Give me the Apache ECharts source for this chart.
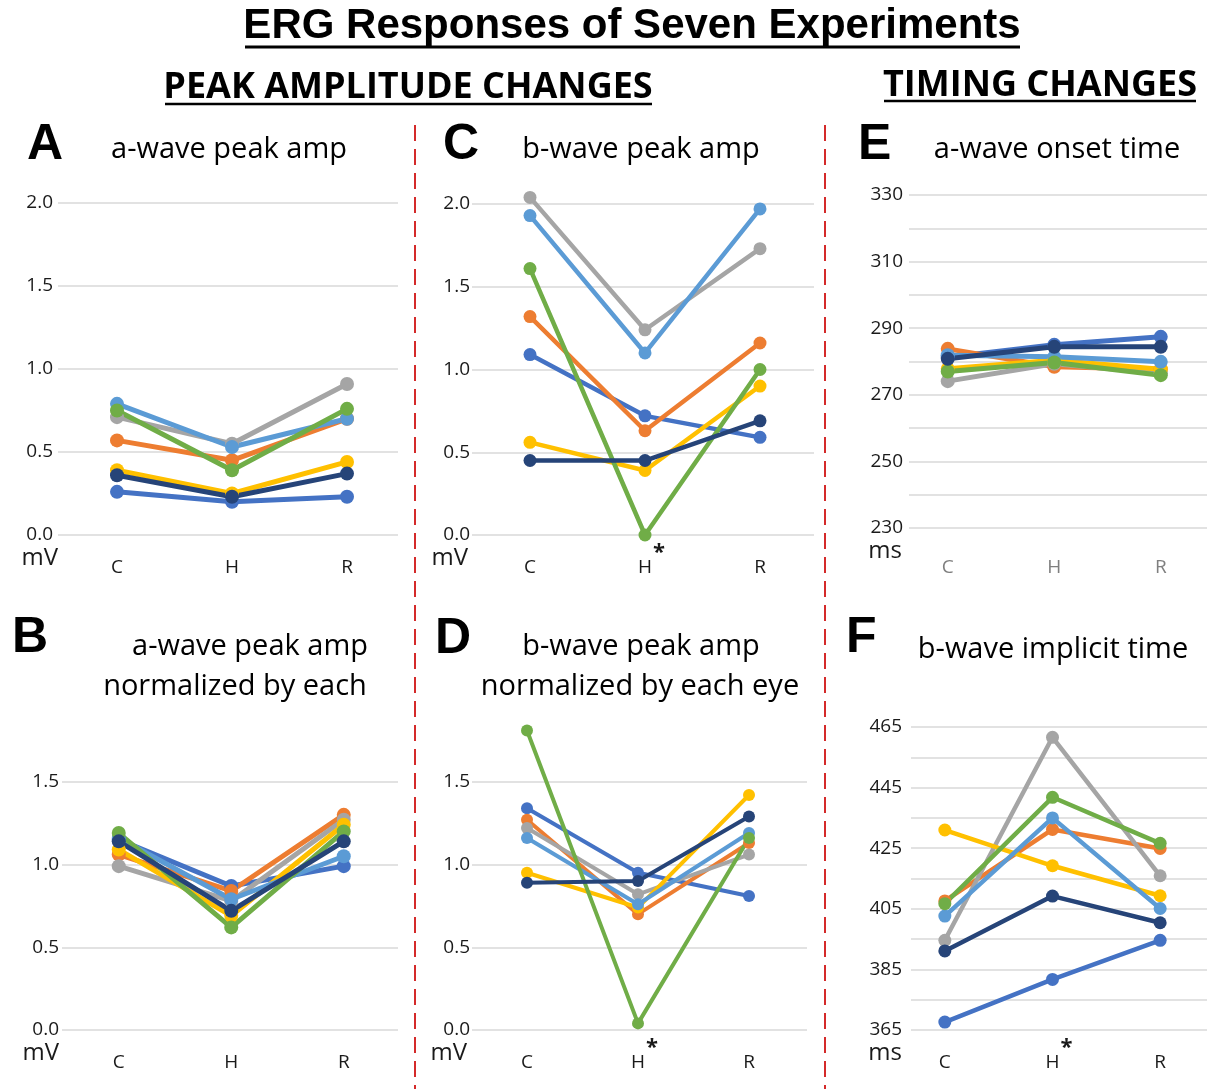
<!DOCTYPE html>
<html><head><meta charset="utf-8">
<script src="https://cdn.jsdelivr.net/npm/echarts@6/dist/echarts.min.js"></script>
<style>html,body{margin:0;padding:0;background:#fff}#c{width:1214px;height:1089px}</style>
</head><body><div id="c"></div>
<script>
// ---------- DATA ----------
const categories = ['C', 'H', 'R'];
const seriesNames = ['Exp 1', 'Exp 2', 'Exp 3', 'Exp 4', 'Exp 5', 'Exp 6', 'Exp 7'];
const seriesColors = ['#4472C4', '#ED7D31', '#A5A5A5', '#FFC000', '#5B9BD5', '#70AD47', '#264478'];

// A: a-wave peak amp (mV)
const aWavePeakAmp = [
  [0.26, 0.20, 0.23],
  [0.57, 0.45, 0.70],
  [0.71, 0.55, 0.91],
  [0.39, 0.25, 0.44],
  [0.79, 0.53, 0.70],
  [0.75, 0.39, 0.76],
  [0.36, 0.23, 0.37]
];
// B: a-wave peak amp normalized
const aWaveNormalized = [
  [1.15, 0.87, 0.99],
  [1.06, 0.84, 1.30],
  [0.99, 0.78, 1.27],
  [1.09, 0.69, 1.24],
  [1.16, 0.79, 1.05],
  [1.19, 0.62, 1.20],
  [1.14, 0.72, 1.14]
];
// C: b-wave peak amp (mV)
const bWavePeakAmp = [
  [1.09, 0.72, 0.59],
  [1.32, 0.63, 1.16],
  [2.04, 1.24, 1.73],
  [0.56, 0.39, 0.90],
  [1.93, 1.10, 1.97],
  [1.61, 0.00, 1.00],
  [0.45, 0.45, 0.69]
];
// D: b-wave peak amp normalized by each eye
const bWaveNormalized = [
  [1.34, 0.95, 0.81],
  [1.27, 0.70, 1.13],
  [1.22, 0.82, 1.06],
  [0.95, 0.74, 1.42],
  [1.16, 0.76, 1.19],
  [1.81, 0.04, 1.16],
  [0.89, 0.90, 1.29]
];
// E: a-wave onset time (ms)
const aWaveOnset = [
  [281.3, 285.0, 287.4],
  [283.8, 278.4, 277.7],
  [274.1, 279.3, 276.5],
  [277.8, 280.4, 277.7],
  [281.9, 281.4, 279.9],
  [277.0, 279.7, 275.9],
  [280.8, 284.4, 284.4]
];
// F: b-wave implicit time (ms)
const bWaveImplicit = [
  [367.6, 381.7, 394.6],
  [407.6, 431.2, 424.9],
  [394.6, 461.6, 415.9],
  [431.0, 419.2, 409.3],
  [402.6, 435.0, 405.1],
  [406.7, 441.8, 426.6],
  [391.1, 409.2, 400.4]
];
const starredCategory = 'H';

// ---------- LAYOUT ----------
const panels = [
  {data: aWavePeakAmp,   min: 0,   max: 2,   interval: 0.5, labelStep: 0.5, unit: 'mV', star: false, frame: [58, 203, 340, 332], plot: [59.5, 345], yMargin: 5, xMargin: 33, hideMax: false, xColor: '#1a1a1a', unitPad: 0, lw: 5, ss: 14},
  {data: aWaveNormalized,min: 0,   max: 2,   interval: 0.5, labelStep: 0.5, unit: 'mV', star: false, frame: [62, 699, 336, 331], plot: [62.5, 337.5], yMargin: 3, xMargin: 33, hideMax: true, xColor: '#1a1a1a', unitPad: 3, lw: 5, ss: 14},
  {data: bWavePeakAmp,   min: 0,   max: 2,   interval: 0.5, labelStep: 0.5, unit: 'mV', star: true,  frame: [472, 204, 342, 331], plot: [472.5, 345], yMargin: 2, xMargin: 33, hideMax: false, xColor: '#1a1a1a', unitPad: 4, lw: 4.5, ss: 13},
  {data: bWaveNormalized,min: 0,   max: 2,   interval: 0.5, labelStep: 0.5, unit: 'mV', star: true,  frame: [472, 699, 335, 331], plot: [471.5, 333], yMargin: 2, xMargin: 33, hideMax: true, xColor: '#1a1a1a', unitPad: 5, lw: 4, ss: 12},
  {data: aWaveOnset,     min: 230, max: 330, interval: 10,  labelStep: 20,  unit: 'ms', star: false, frame: [909, 195, 298, 333], plot: [894.5, 327], yMargin: 6, xMargin: 40, hideMax: false, xColor: '#7f7f7f', unitPad: 7, lw: 5, ss: 14},
  {data: bWaveImplicit,  min: 365, max: 465, interval: 10,  labelStep: 20,  unit: 'ms', star: true,  frame: [911, 727, 296, 303], plot: [891, 336], yMargin: 9, xMargin: 33, hideMax: false, xColor: '#1a1a1a', unitPad: 9, lw: 4.5, ss: 13}
];

const FONT = '"Open Sans", "Noto Sans", sans-serif';
const grids = [], xAxes = [], yAxes = [], series = [];
const starStyle = {fontSize: 22, fontWeight: 'bold', fontFamily: FONT, padding: [0, 0, 30, 1]};

panels.forEach(p => {
  const gf = grids.length;
  grids.push({left: p.frame[0], top: p.frame[1], width: p.frame[2], height: p.frame[3]});
  const gd = grids.length;
  grids.push({left: p.plot[0], top: p.frame[1], width: p.plot[1], height: p.frame[3]});

  xAxes.push({gridIndex: gf, type: 'category', data: categories, show: false});
  yAxes.push({
    gridIndex: gf, type: 'value', min: p.min, max: p.max, interval: p.interval,
    axisLine: {show: false}, axisTick: {show: false},
    splitLine: {show: true, showMaxLine: !p.hideMax, lineStyle: {color: '#d9d9d9', width: 1.5}},
    axisLabel: {
      margin: p.yMargin, color: '#1a1a1a', fontFamily: FONT, fontSize: 19,
      showMaxLabel: !p.hideMax,
      formatter: v => {
        const k = Math.round((v - p.min) / p.labelStep * 1000) / 1000;
        if (Math.abs(k - Math.round(k)) > 1e-6) return '';
        if (p.hideMax && Math.abs(v - p.max) < 1e-9) return '';
        return p.interval < 1 ? v.toFixed(1) : String(Math.round(v));
      }
    },
    name: p.unit, nameLocation: 'start', nameGap: 23,
    nameTextStyle: {align: 'right', verticalAlign: 'middle', fontFamily: FONT, fontSize: 24, color: '#1a1a1a', padding: [0, p.unitPad, 0, 0]}
  });

  const xi = xAxes.length;
  xAxes.push({
    gridIndex: gd, type: 'category', data: categories,
    axisLine: {show: false}, axisTick: {show: false},
    axisLabel: {
      interval: 0, hideOverlap: false,
      margin: p.xMargin, verticalAlign: 'middle', color: p.xColor, fontFamily: FONT, fontSize: 19,
      formatter: v => (p.star && v === starredCategory) ? '{p|*}' + v + '{s|*}' : v,
      rich: {
        s: Object.assign({color: '#1a1a1a'}, starStyle),
        p: Object.assign({color: 'rgba(0,0,0,0)'}, starStyle)
      }
    }
  });
  const yi = yAxes.length;
  yAxes.push({gridIndex: gd, type: 'value', min: p.min, max: p.max, show: false});

  p.data.forEach((vals, k) => {
    series.push({
      name: seriesNames[k], type: 'line', xAxisIndex: xi, yAxisIndex: yi,
      data: vals, symbol: 'circle', symbolSize: p.ss, showSymbol: true, clip: false,
      lineStyle: {width: p.lw, color: seriesColors[k]},
      itemStyle: {color: seriesColors[k]},
      emphasis: {disabled: true}, animation: false
    });
  });
});

// ---------- DECORATION ----------
function txt(text, x, y, font, align) {
  return {type: 'text', silent: true, style: {text, x, y, font, fill: '#000', align: align || 'center', verticalAlign: 'middle', textAlign: align || 'center', textVerticalAlign: 'middle'}};
}
function line(x1, y1, x2, y2, w, color, dash) {
  return {type: 'line', silent: true, shape: {x1, y1, x2, y2}, style: {stroke: color || '#000', lineWidth: w, lineDash: dash || null}};
}
const LETTER = 'bold 50px "Liberation Sans", Arial, sans-serif';
const PT = '29px ' + FONT;
const graphics = [
  txt('ERG Responses of Seven Experiments', 632, 26, 'bold 42px "Liberation Sans", Arial, sans-serif'),
  line(245, 47, 1020, 47, 3),
  txt('PEAK AMPLITUDE CHANGES', 408, 88, 'bold 36px ' + FONT),
  line(165, 104, 652, 104, 2.5),
  txt('TIMING CHANGES', 1040, 86, 'bold 36px ' + FONT),
  line(884, 101, 1196, 101, 2.5),
  line(415, 125, 415, 1089, 2, '#D42A2A', [16, 8]),
  line(825, 125, 825, 1089, 2, '#D42A2A', [16, 8]),
  txt('A', 27, 145, LETTER, 'left'),
  txt('B', 12, 638, LETTER, 'left'),
  txt('C', 443, 145, LETTER, 'left'),
  txt('D', 435, 639, LETTER, 'left'),
  txt('E', 858, 145, LETTER, 'left'),
  txt('F', 846, 638, LETTER, 'left'),
  txt('a-wave peak amp', 229, 150, PT),
  txt('a-wave peak amp', 250, 647, PT),
  txt('normalized by each', 235, 687, PT),
  txt('b-wave peak amp', 641, 150, PT),
  txt('b-wave peak amp', 641, 647, PT),
  txt('normalized by each eye', 640, 687, PT),
  txt('a-wave onset time', 1057, 150, PT),
  txt('b-wave implicit time', 1053, 650, PT)
];

const chart = echarts.init(document.getElementById('c'), null, {renderer: 'canvas'});
chart.setOption({
  animation: false,
  backgroundColor: '#fff',
  grid: grids, xAxis: xAxes, yAxis: yAxes, series: series,
  graphic: graphics
});
</script></body></html>
